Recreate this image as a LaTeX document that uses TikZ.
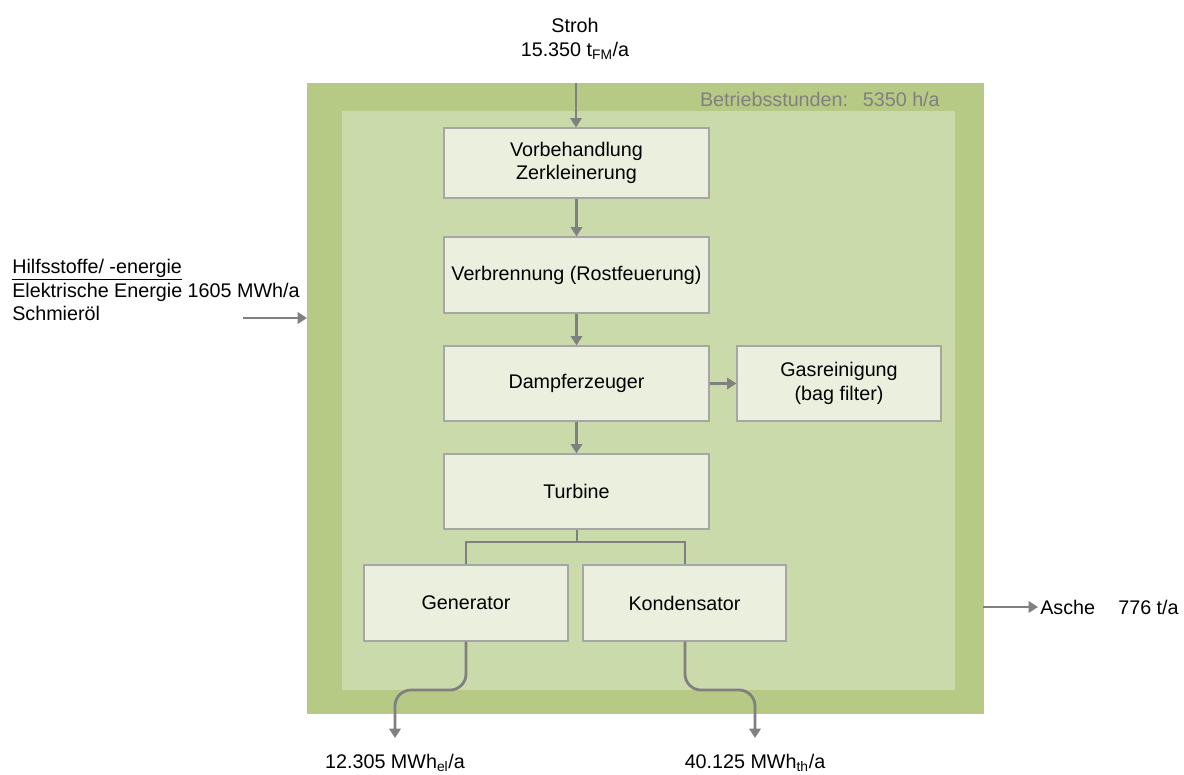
\documentclass[tikz,border=0pt]{standalone}
\usepackage{fontspec}
\setmainfont{Liberation Sans}
\usetikzlibrary{arrows.meta}
\definecolor{outerg}{HTML}{B6CA86}
\definecolor{innerg}{HTML}{CBDAAA}
\definecolor{boxg}{HTML}{EAF0DD}
\definecolor{boxb}{HTML}{A6A6A6}
\definecolor{arr}{HTML}{808080}
\begin{document}
\begin{tikzpicture}[x=0.75pt,y=-0.75pt,
  every node/.style={font=\fontsize{14.8}{17.6}\selectfont, inner sep=0pt},
  pbox/.style={draw=boxb, line width=0.9pt, fill=boxg, align=center},
  flow/.style={draw=arr, line width=2.1pt, -{Triangle[width=8.5pt,length=7pt]}},
  link/.style={draw=arr, line width=2.1pt}]
\useasboundingbox (0,0) rectangle (1184,774);
% background frames
\fill[outerg] (307,83) rectangle (984,714);
\fill[innerg] (342,111) rectangle (955,690);
% boxes
\node[pbox, minimum width=198.75pt, minimum height=52.5pt] (vor) at (576.5,163) {Vorbehandlung\\Zerkleinerung};
\node[pbox, minimum width=198.75pt, minimum height=57pt] (verb) at (576.5,275) {Verbrennung (Rostfeuerung)};
\node[pbox, minimum width=198.75pt, minimum height=56.25pt] (dampf) at (576.5,383.5) {Dampferzeuger};
\node[pbox, minimum width=153pt, minimum height=56.25pt] (gas) at (839,383.5) {Gasreinigung\\(bag filter)};
\node[pbox, minimum width=198.75pt, minimum height=56.25pt] (turb) at (576.5,491.5) {Turbine};
\node[pbox, minimum width=153pt, minimum height=57pt] (gen) at (466,603) {Generator};
\node[pbox, minimum width=152.25pt, minimum height=57pt] (kond) at (684.5,603) {Kondensator};
% texts
\node[align=center] (stroh) at (575,39) {Stroh\\15.350 t\textsubscript{FM}/a};
\node[anchor=east, text=arr] (betr) at (940,99) {Betriebsstunden:\hspace{0.75em}5350 h/a};
\node[anchor=west, align=left] (hilf) at (12,290) {\underline{Hilfsstoffe/ -energie}\\Elektrische Energie 1605 MWh/a\\Schmieröl};
\node[anchor=west] (asche) at (1040,607) {Asche\hspace{0.9em} 776 t/a};
\node (el) at (395,763) {12.305 MWh\textsubscript{el}/a};
\node (th) at (755,763) {40.125 MWh\textsubscript{th}/a};
% coordinates
\coordinate (sin) at (576,83);
\coordinate (hin0) at (243,318);
\coordinate (hin1) at (307,318);
\coordinate (as0) at (983,607);
\coordinate (as1) at (1038,607);
\coordinate (br) at (577,542);
\coordinate (elend) at (395,738);
\coordinate (thend) at (755,738);
% connectors
\draw[flow] (sin) -- (vor.north -| sin);
\draw[flow] (vor.south) -- (verb.north);
\draw[flow] (verb.south) -- (dampf.north);
\draw[flow] (dampf.south) -- (turb.north);
\draw[flow] (dampf.east) -- (gas.west);
\draw[flow] (hin0) -- (hin1);
\draw[flow] (as0) -- (as1);
\draw[link] (turb.south -| br) -- (br);
\draw[link] (gen.north) -- (466,542) -- (685,542) -- (kond.north -| 685,0);
\draw[flow, rounded corners=12pt] (gen.south) -- (466,690) -- (395,690) -- (elend);
\draw[flow, rounded corners=12pt] (kond.south -| 685,0) -- (685,690) -- (755,690) -- (thend);
\end{tikzpicture}
\end{document}
